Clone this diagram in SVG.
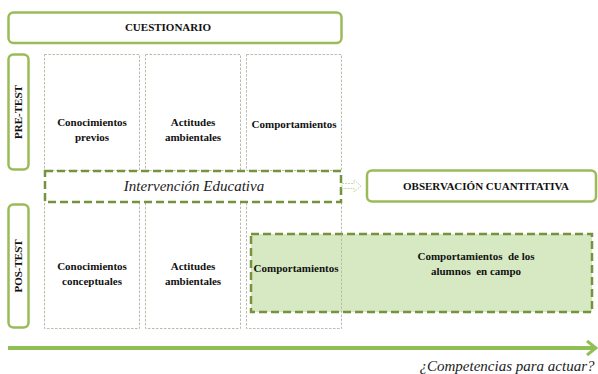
<svg xmlns="http://www.w3.org/2000/svg" width="598" height="374" viewBox="0 0 598 374">
<style>
.box{fill:#fff;stroke:#9bbb59;stroke-width:2.5}
.cell{fill:none;stroke:#b8bca8;stroke-width:1;stroke-dasharray:2.5,1.5}
.dash{stroke:#76923c;stroke-width:2.5;stroke-dasharray:8,4}
.b{font-family:'Liberation Serif','Times New Roman','DejaVu Serif',serif;font-weight:bold;font-size:11px;fill:#111;text-anchor:middle}
.i{font-family:'Liberation Serif','Times New Roman','DejaVu Serif',serif;font-style:italic;fill:#222;text-anchor:middle}
</style>
<g id="cuestionario"><rect class="box" x="8.5" y="12.5" width="333" height="30.5" rx="5"/><text class="b" x="168" y="31">CUESTIONARIO</text></g>
<g id="pretest"><rect class="box" x="8.5" y="54.5" width="20" height="115" rx="5"/><text class="b" transform="translate(22,112) rotate(-90)" font-size="11.5">PRE-TEST</text></g>
<g id="postest"><rect class="box" x="8.5" y="204.5" width="20" height="123" rx="5"/><text class="b" transform="translate(22,266) rotate(-90)" font-size="11.5">POS-TEST</text></g>
<g id="pre1"><rect class="cell" x="44.5" y="54.5" width="95" height="116"/><text class="b" x="92" y="126">Conocimientos</text><text class="b" x="92" y="141">previos</text></g>
<g id="pre2"><rect class="cell" x="145.5" y="54.5" width="95" height="116"/><text class="b" x="193" y="126">Actitudes</text><text class="b" x="193" y="141">ambientales</text></g>
<g id="pre3"><rect class="cell" x="246.5" y="54.5" width="95" height="116"/><text class="b" x="294" y="128">Comportamientos</text></g>
<g id="post1"><rect class="cell" x="44.5" y="201.5" width="95" height="127"/><text class="b" x="92" y="270">Conocimientos</text><text class="b" x="92" y="285">conceptuales</text></g>
<g id="post2"><rect class="cell" x="145.5" y="201.5" width="95" height="127"/><text class="b" x="193" y="270">Actitudes</text><text class="b" x="193" y="285">ambientales</text></g>
<g id="campo"><rect class="dash" x="251" y="234" width="341" height="78" fill="#d7e9c2"/><text class="b" x="476" y="260" xml:space="preserve">Comportamientos  de los</text><text class="b" x="476" y="275" xml:space="preserve">alumnos  en campo</text></g>
<g id="post3"><rect class="cell" x="246.5" y="201.5" width="95" height="127"/><text class="b" x="296" y="272">Comportamientos</text></g>
<g id="intervencion"><rect class="dash" x="45" y="171" width="296" height="31" fill="#fff"/><text class="i" x="194" y="191" font-size="15">Intervención Educativa</text></g>
<g id="observacion"><rect class="box" x="367" y="170.5" width="229" height="31" rx="5"/><text class="b" x="486" y="190" font-size="10.5">OBSERVACIÓN CUANTITATIVA</text></g>
<g id="connectors">
<path d="M342,183.5 H354 V180 L361,186 L354,192 V188.5 H342 Z" fill="#fff" stroke="#c5d9a5" stroke-width="1" stroke-dasharray="2,1"/>
<line x1="8" y1="348" x2="594" y2="348" stroke="#8fbf55" stroke-width="4"/>
<path d="M587,341 L596,348 L587,355" fill="none" stroke="#8fbf55" stroke-width="3"/>
</g>
<text class="i" x="507" y="371" font-size="15">¿Competencias para actuar?</text>
</svg>
